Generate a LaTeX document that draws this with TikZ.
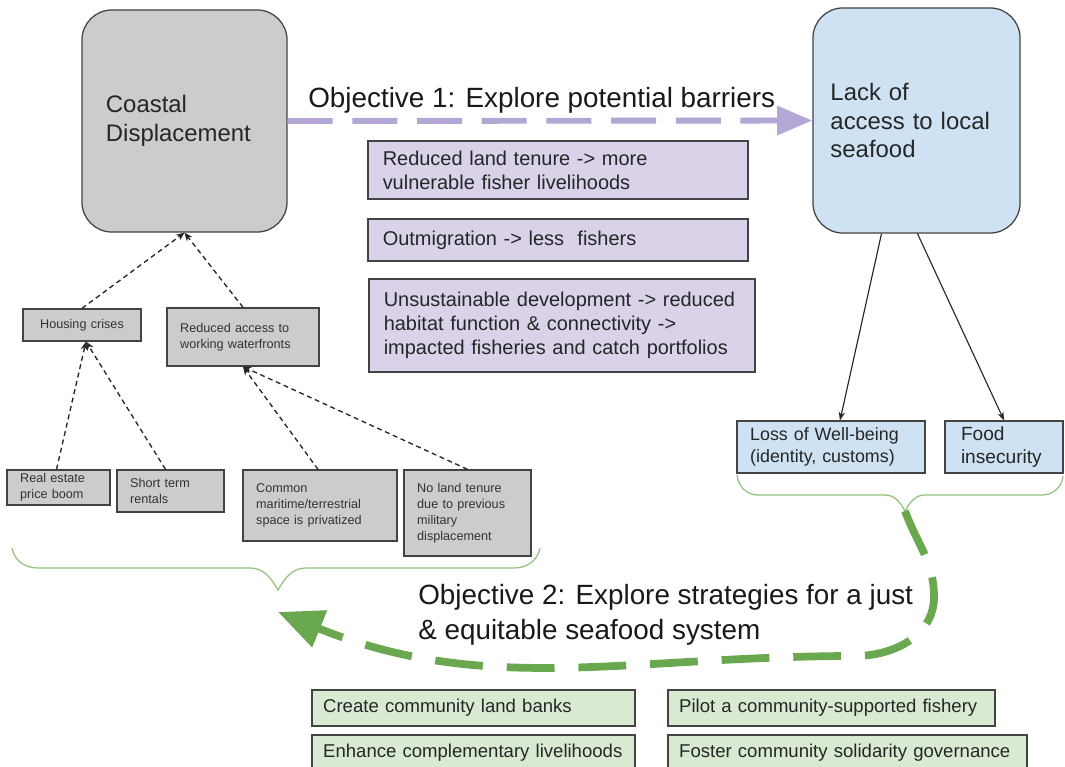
\documentclass[tikz,border=0pt]{standalone}
\usepackage{fontspec}
\setmainfont{Liberation Sans}
\usetikzlibrary{arrows.meta,calc}
\definecolor{grayfill}{HTML}{CCCCCC}
\definecolor{bluefill}{HTML}{CFE2F3}
\definecolor{purplefill}{HTML}{D9D2E9}
\definecolor{greenfill}{HTML}{D9EAD3}
\definecolor{purplearrow}{HTML}{B4A7D6}
\definecolor{greenarrow}{HTML}{6AA84F}
\definecolor{bracegreen}{HTML}{93C47D}
\definecolor{edgegray}{HTML}{434343}
\hyphenpenalty=10000
\exhyphenpenalty=10000
\begin{document}
\begin{tikzpicture}[x=0.025cm,y=-0.025cm,
  box/.style={draw=edgegray, line width=0.9pt, inner ysep=0pt, align=left},
  bigbox/.style={box, rounded corners=0.75cm, inner xsep=0.6cm,
    font=\fontsize{17}{20.5}\selectfont, text=black!85},
  smallbox/.style={box, fill=grayfill, inner xsep=0.33cm,
    font=\fontsize{9}{11.3}\selectfont, text=black!80},
  purplebox/.style={box, fill=purplefill, inner xsep=0.37cm,
    font=\fontsize{14.2}{17}\selectfont, text=black!85},
  bluebox/.style={box, fill=bluefill, inner xsep=0.33cm, text=black!85},
  greenbox/.style={box, fill=greenfill, inner xsep=0.28cm,
    font=\fontsize{13.2}{16}\selectfont, text=black!85},
  objtext/.style={inner sep=0pt, align=left, font=\fontsize{19.8}{25}\selectfont, text=black!90},
  thindash/.style={draw=black!85, line width=0.95pt, dash pattern=on 3.5pt off 2.6pt,
    -{Stealth[length=6pt,width=5pt]}},
  solidarrow/.style={draw=black!85, line width=0.8pt, -{Stealth[length=6pt,width=4.5pt]}},
  bracestyle/.style={draw=bracegreen, line width=0.9pt}
]
\useasboundingbox (0,0) rectangle (1065,767);
\clip (0,0) rectangle (1065,767);
\fill[white] (0,0) rectangle (1065,767);

% big boxes
\node[bigbox, fill=grayfill, minimum width=5.125cm, minimum height=5.55cm, text width=3.925cm]
  (coastal) at (184.5,121) {Coastal\\Displacement};
\node[bigbox, fill=bluefill, minimum width=5.175cm, minimum height=5.625cm, text width=4.3cm,
  inner xsep=0.4375cm] (lack) at (916.5,120.5) {Lack of\\access to local\\seafood};

% objective 1
\node[objtext, anchor=base west] (obj1) at (308,108) {Objective 1: Explore potential barriers};
\draw[draw=purplearrow, line width=4.2pt, dash pattern=on 32pt off 14pt,
  -{Triangle[length=25pt,width=20pt]}] (coastal.east) -- (lack.west);

% purple boxes
\node[purplebox, minimum width=9.5cm, minimum height=1.45cm, text width=8.76cm]
  (p1) at (558,170) {Reduced land tenure -> more\\vulnerable fisher livelihoods};
\node[purplebox, minimum width=9.5cm, minimum height=1.05cm, text width=8.76cm]
  (p2) at (558,240) {Outmigration -> less\ \ fishers};
\node[purplebox, minimum width=9.65cm, minimum height=2.325cm, text width=8.91cm]
  (p3) at (562,325.5) {Unsustainable development -> reduced\\habitat function \& connectivity ->\\impacted fisheries and catch portfolios};

% left small boxes
\node[smallbox, align=center, minimum width=2.95cm, minimum height=0.8cm, text width=2.29cm]
  (housing) at (82,325) {Housing crises};
\node[smallbox, minimum width=3.8cm, minimum height=1.45cm, text width=3.14cm]
  (access) at (243,337) {Reduced access to\\working waterfronts};
\node[smallbox, minimum width=2.575cm, minimum height=0.875cm, text width=1.915cm]
  (realestate) at (58.5,487.5) {Real estate\\price boom};
\node[smallbox, minimum width=2.675cm, minimum height=1.05cm, text width=2.015cm]
  (shortterm) at (170.5,491) {Short term\\rentals};
\node[smallbox, minimum width=3.85cm, minimum height=1.775cm, text width=3.19cm]
  (common) at (320,505.5) {Common\\maritime/terrestrial\\space is privatized};
\node[smallbox, minimum width=3.175cm, minimum height=2.15cm, text width=2.515cm]
  (noland) at (467.5,513) {No land tenure\\due to previous\\military\\displacement};

% dashed connectors
\draw[thindash] (housing.north) -- (coastal.south);
\draw[thindash] (access.north) -- (coastal.south);
\draw[thindash] ($(realestate.north)+(-2,0)$) -- ($(housing.south)+(4,0)$);
\draw[thindash] ($(shortterm.north)+(-5,0)$) -- ($(housing.south)+(4,0)$);
\draw[thindash] ($(common.north)+(-2,0)$) -- (access.south);
\draw[thindash] (noland.north) -- (access.south);

% blue small boxes
\node[bluebox, minimum width=4.7cm, minimum height=1.3cm, text width=4.04cm,
  font=\fontsize{12.7}{15.5}\selectfont] (loss) at (831,447) {Loss of Well-being\\(identity, customs)};
\node[bluebox, minimum width=2.95cm, minimum height=1.3cm, text width=2.15cm, inner xsep=0.4cm,
  font=\fontsize{13.6}{16.8}\selectfont] (food) at (1004,447) {Food\\insecurity};

\draw[solidarrow] ($(lack.south)+(-35,0)$) -- ($(loss.north)+(9,0)$);
\draw[solidarrow] ($(lack.south)+(1,0)$) -- (food.north);

% braces
\coordinate (lbtip) at (278,590);
\coordinate (rbtip) at (905,511);
\draw[bracestyle] (12,548) to[out=-80,in=180] (38,568) -- (250,568)
  to[out=0,in=120] (lbtip) to[out=60,in=180] (306,568) -- (514,568) to[out=0,in=-100] (540,548);
\draw[bracestyle] (737,475) to[out=-85,in=180] (758,495) -- (885,495)
  to[out=0,in=120] (rbtip) to[out=60,in=180] (925,495) -- (1042,495) to[out=0,in=-95] (1063,476);

% objective 2
\node[objtext, anchor=north west] (obj2) at (418,584) {Objective 2: Explore strategies for a just\\\& equitable seafood system};
\coordinate (obj2end) at (278,612);
\draw[draw=greenarrow, line width=5.5pt, dash pattern=on 34pt off 17pt,
  -{Triangle[length=32pt,width=27pt]}]
  (rbtip) to[out=-70,in=90] (934,597) to[out=-90,in=0] (855,656) to[out=180,in=-22] (obj2end);

% green boxes
\node[greenbox, minimum width=8.075cm, minimum height=0.9cm, text width=7.515cm]
  (g1) at (473.5,708) {Create community land banks};
\node[greenbox, minimum width=8.175cm, minimum height=0.9cm, text width=7.615cm]
  (g2) at (831.5,708) {Pilot a community-supported fishery};
\node[greenbox, minimum width=8.075cm, minimum height=0.875cm, text width=7.515cm]
  (g3) at (473.5,752.5) {Enhance complementary livelihoods};
\node[greenbox, minimum width=8.975cm, minimum height=0.875cm, text width=8.415cm]
  (g4) at (847.5,752.5) {Foster community solidarity governance};
\end{tikzpicture}
\end{document}
